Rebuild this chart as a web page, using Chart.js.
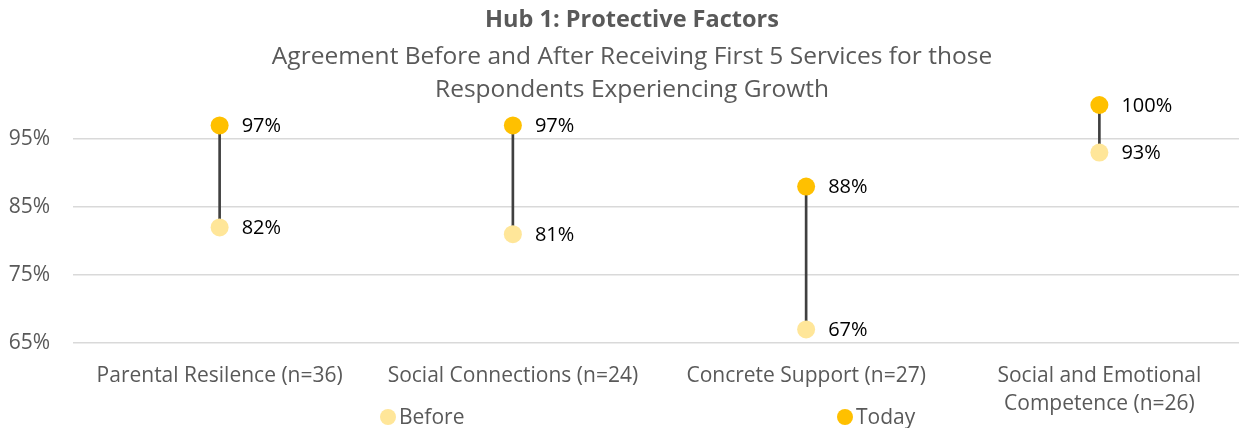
<!DOCTYPE html>
<html>
<head>
<meta charset="utf-8">
<script src="https://cdn.jsdelivr.net/npm/chart.js@4.4.1/dist/chart.umd.min.js"></script>
<style>
  html, body { margin: 0; padding: 0; background: #fff; overflow: hidden; }
  #wrap { width: 1246px; height: 428px; }
</style>
</head>
<body>
<div id="wrap"><canvas id="c" width="1246" height="428"></canvas></div>
<script>
const categories = [
  'Parental Resilence (n=36)',
  'Social Connections (n=24)',
  'Concrete Support (n=27)',
  ['Social and Emotional', 'Competence (n=26)']
];
const beforeValues = [82, 81, 67, 93];
const todayValues = [97, 97, 88, 100];
const yTicks = [65, 75, 85, 95];
const titleText = 'Hub 1: Protective Factors';
const subtitleLines = ['Agreement Before and After Receiving First 5 Services for those', 'Respondents Experiencing Growth'];

const FONT = "'Open Sans', 'Noto Sans', sans-serif";
const GRAY = '#595959';

const headerPlugin = {
  id: 'header',
  afterDraw(chart) {
    const ctx = chart.ctx;
    ctx.save();
    ctx.textAlign = 'center';
    ctx.textBaseline = 'middle';
    ctx.fillStyle = GRAY;
    const cx = 632;
    ctx.font = 'bold 23.5px ' + FONT;
    ctx.fillText(titleText, cx, 20);
    ctx.font = '24.5px ' + FONT;
    subtitleLines.forEach((line, i) => ctx.fillText(line, cx, 57 + i * 33));
    ctx.restore();
  }
};

const dataLabels = {
  id: 'dataLabels',
  afterDatasetsDraw(chart) {
    const ctx = chart.ctx;
    ctx.save();
    ctx.font = '20px ' + FONT;
    ctx.fillStyle = '#000';
    ctx.textAlign = 'left';
    ctx.textBaseline = 'middle';
    chart.data.datasets.forEach((ds, di) => {
      if (ds.type !== 'line') return;
      const meta = chart.getDatasetMeta(di);
      meta.data.forEach((pt, i) => {
        ctx.fillText(ds.data[i] + '%', pt.x + 22, pt.y + 1);
      });
    });
    ctx.restore();
  }
};

const customLegend = {
  id: 'customLegend',
  afterDraw(chart) {
    const ctx = chart.ctx;
    const spots = [388, 845];
    ctx.save();
    ctx.font = '21px ' + FONT;
    ctx.textBaseline = 'middle';
    ctx.textAlign = 'left';
    let k = 0;
    chart.data.datasets.forEach((ds) => {
      if (ds.type !== 'line') return;
      const x = spots[k++];
      const y = 417;
      ctx.beginPath();
      ctx.arc(x, y, 8, 0, Math.PI * 2);
      ctx.fillStyle = ds.backgroundColor;
      ctx.fill();
      ctx.fillStyle = GRAY;
      ctx.fillText(ds.label, x + 11, y + 1);
    });
    ctx.restore();
  }
};

new Chart(document.getElementById('c'), {
  type: 'bar',
  data: {
    labels: categories,
    datasets: [
      {
        type: 'line',
        label: 'Before',
        data: beforeValues,
        showLine: false,
        backgroundColor: '#FFE699',
        borderColor: '#FFE699',
        pointRadius: 9,
        pointHoverRadius: 9,
        pointBorderWidth: 0,
        clip: false,
        order: 1
      },
      {
        type: 'line',
        label: 'Today',
        data: todayValues,
        showLine: false,
        backgroundColor: '#FFC000',
        borderColor: '#FFC000',
        pointRadius: 9,
        pointHoverRadius: 9,
        pointBorderWidth: 0,
        clip: false,
        order: 0
      },
      {
        type: 'bar',
        label: 'range',
        data: beforeValues.map((b, i) => [b, todayValues[i]]),
        backgroundColor: '#404040',
        barThickness: 2,
        borderWidth: 0,
        grouped: false,
        clip: false,
        order: 5
      }
    ]
  },
  options: {
    responsive: false,
    animation: false,
    events: [],
    layout: { autoPadding: false, padding: { left: 0, right: 0, top: 105, bottom: 0 } },
    plugins: {
      legend: { display: false },
      tooltip: { enabled: false },
      title: { display: false },
      subtitle: { display: false }
    },
    scales: {
      x: {
        type: 'category',
        offset: true,
        grid: { display: false, drawTicks: false },
        border: { display: false },
        ticks: {
          color: GRAY,
          font: { family: FONT, size: 21, lineHeight: 28 / 21 },
          padding: 19,
          maxRotation: 0,
          autoSkip: false
        },
        afterFit(scale) { scale.height = 85; }
      },
      y: {
        type: 'linear',
        min: 65,
        max: 100,
        grid: { color: '#d9d9d9', lineWidth: 1.5, drawTicks: false },
        border: { display: false },
        ticks: {
          stepSize: 10,
          color: GRAY,
          font: { family: FONT, size: 21 },
          padding: 23,
          callback: (v) => v + '%'
        },
        afterBuildTicks(scale) {
          scale.ticks = yTicks.map(v => ({ value: v }));
        },
        afterFit(scale) { scale.width = 73; }
      }
    }
  },
  plugins: [headerPlugin, dataLabels, customLegend]
});
</script>
</body>
</html>
